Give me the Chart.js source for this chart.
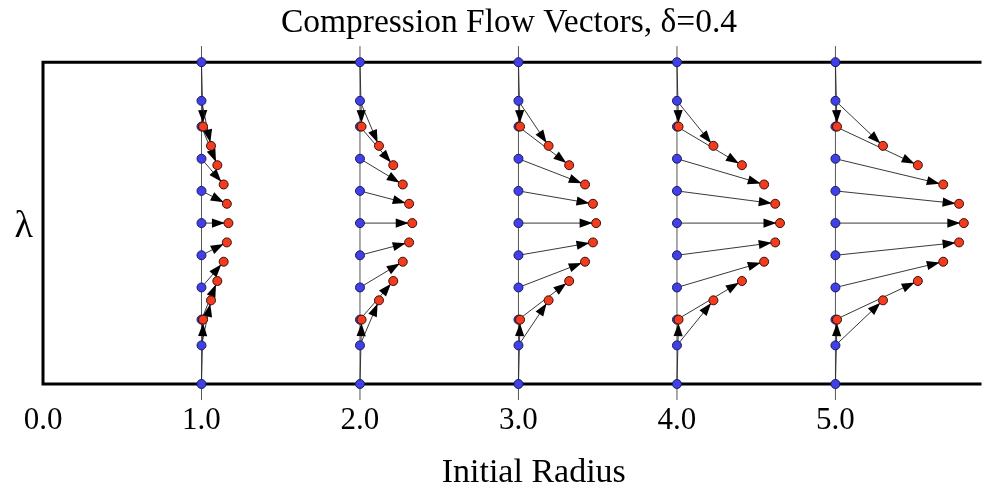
<!doctype html>
<html lang="en">
<head>
<meta charset="utf-8">
<title>Compression Flow Vectors</title>
<script src="https://cdn.jsdelivr.net/npm/chart.js@4.4.1/dist/chart.umd.min.js"></script>
<style>
  html, body { margin: 0; padding: 0; background: #fff; }
  #wrap { width: 982px; height: 493px; }
</style>
</head>
<body>
<div id="wrap"><canvas id="flow"></canvas></div>
<script>
// initial radii (columns) and lambda levels
const radii = [1, 2, 3, 4, 5];
const xTicks = [0, 1, 2, 3, 4, 5];
const lambdaStart = [1, 0.76, 0.6, 0.4, 0.2, 0, -0.2, -0.4, -0.6, -0.76, -1];
const lambdaEnd = [0.6, 0.48, 0.36, 0.24, 0.12, 0, -0.12, -0.24, -0.36, -0.48, -0.6];

// compressed radius, read per column
const endR1 = [1.01, 1.06, 1.10, 1.14, 1.16, 1.17, 1.16, 1.14, 1.10, 1.06, 1.01];
const endR2 = [2.01, 2.12, 2.21, 2.27, 2.31, 2.33, 2.31, 2.27, 2.21, 2.12, 2.01];
const endR3 = [3.01, 3.19, 3.32, 3.42, 3.47, 3.49, 3.47, 3.42, 3.32, 3.19, 3.01];
const endR4 = [4.01, 4.23, 4.41, 4.55, 4.62, 4.65, 4.62, 4.55, 4.41, 4.23, 4.01];
const endR5 = [5.01, 5.30, 5.52, 5.68, 5.78, 5.81, 5.78, 5.68, 5.52, 5.30, 5.01];
const endRadius = [endR1, endR2, endR3, endR4, endR5];

const serif = "'Liberation Serif', 'DejaVu Serif', serif";

var startPoints = [];
var endPoints = [];
radii.forEach((r, c) => {
  lambdaStart.forEach((l, i) => {
    startPoints.push({x: r, y: l});
    endPoints.push({x: endRadius[c][i], y: lambdaEnd[i]});
  });
});

// thin vertical guides through each initial radius
var guides = radii.map(r => ({
  type: 'scatter',
  showLine: true,
  data: [{x: r, y: -1.1}, {x: r, y: 1.1}],
  borderColor: '#555',
  borderWidth: 1,
  pointRadius: 0,
  clip: false,
  order: 3
}));

// frame: thick top, bottom and left edges (the right side runs off the picture)
const framePlugin = {
  id: 'frame',
  afterLayout(chart) {
    // the original figure was wider than the crop, so its titles sit right of centre
    if (chart.titleBlock) {
      chart.titleBlock.left += 18;
      chart.titleBlock.right += 18;
    }
    chart.scales.x.right += 48;
  },
  beforeDatasetsDraw(chart) {
    const a = chart.chartArea, ctx = chart.ctx;
    ctx.save();
    ctx.strokeStyle = '#000';
    ctx.lineWidth = 3;
    ctx.beginPath();
    ctx.moveTo(a.right + 5, a.top);
    ctx.lineTo(a.left, a.top);
    ctx.lineTo(a.left, a.bottom);
    ctx.lineTo(a.right + 5, a.bottom);
    ctx.stroke();
    ctx.restore();
  }
};

// arrows from initial to compressed positions
const arrowPlugin = {
  id: 'arrows',
  beforeDatasetDraw(chart, args) {
    if (args.index !== 0) return;
    const xs = chart.scales.x, ys = chart.scales.y, ctx = chart.ctx;
    ctx.save();
    startPoints.forEach((p, i) => {
      const q = endPoints[i];
      const x0 = xs.getPixelForValue(p.x), y0 = ys.getPixelForValue(p.y);
      const x1 = xs.getPixelForValue(q.x), y1 = ys.getPixelForValue(q.y);
      const dx = x1 - x0, dy = y1 - y0, len = Math.hypot(dx, dy);
      if (len < 1) return;
      const ux = dx / len, uy = dy / len;
      ctx.strokeStyle = '#222';
      ctx.lineWidth = 0.9;
      ctx.beginPath();
      ctx.moveTo(x0, y0);
      ctx.lineTo(x1, y1);
      ctx.stroke();
      const tx = x1 - ux * 3.5, ty = y1 - uy * 3.5;
      const bx = tx - ux * 13, by = ty - uy * 13;
      ctx.fillStyle = '#000';
      ctx.beginPath();
      ctx.moveTo(tx, ty);
      ctx.lineTo(bx - uy * 4.6, by + ux * 4.6);
      ctx.lineTo(bx + uy * 4.6, by - ux * 4.6);
      ctx.closePath();
      ctx.fill();
    });
    ctx.restore();
  }
};

const chart = new Chart(document.getElementById('flow'), {
  type: 'scatter',
  data: {
    datasets: [
      {
        label: 'Initial',
        data: startPoints,
        pointRadius: 4.5,
        pointBackgroundColor: '#4040ea',
        pointBorderColor: '#1c1c55',
        pointBorderWidth: 1,
        clip: false,
        order: 1
      },
      {
        label: 'Compressed',
        data: endPoints,
        pointRadius: 4.5,
        pointBackgroundColor: '#f23c1e',
        pointBorderColor: '#3d0c05',
        pointBorderWidth: 1,
        clip: false,
        order: 0
      },
      ...guides
    ]
  },
  options: {
    responsive: true,
    maintainAspectRatio: false,
    animation: false,
    layout: { padding: 0 },
    scales: {
      x: {
        type: 'linear',
        min: 0,
        max: 5.89,
        afterBuildTicks: s => { s.ticks = xTicks.map(v => ({value: v})); },
        afterFit: s => { s.height = 109; },
        ticks: {
          callback: v => Number(v).toFixed(1),
          font: { family: serif, size: 31 },
          color: '#000',
          padding: 18,
          maxRotation: 0
        },
        grid: { display: false, drawTicks: false },
        border: { display: false },
        title: {
          display: true,
          text: 'Initial Radius',
          font: { family: serif, size: 34 },
          color: '#000',
          padding: { top: 0, bottom: 0 }
        }
      },
      y: {
        min: -1,
        max: 1,
        afterFit: s => { s.width = 43; },
        ticks: {
          stepSize: 1,
          callback: v => (v === 0 ? 'λ' : ''),
          font: { family: serif, size: 38 },
          color: '#000',
          padding: 10,
          labelOffset: 4
        },
        grid: { display: false, drawTicks: false },
        border: { display: false }
      }
    },
    plugins: {
      legend: { display: false },
      tooltip: { enabled: false },
      title: {
        display: true,
        text: 'Compression Flow Vectors, δ=0.4',
        font: { family: serif, size: 33.5, weight: 'normal' },
        color: '#000',
        padding: { top: 3, bottom: 19 }
      }
    }
  },
  plugins: [framePlugin, arrowPlugin]
});
</script>
</body>
</html>
